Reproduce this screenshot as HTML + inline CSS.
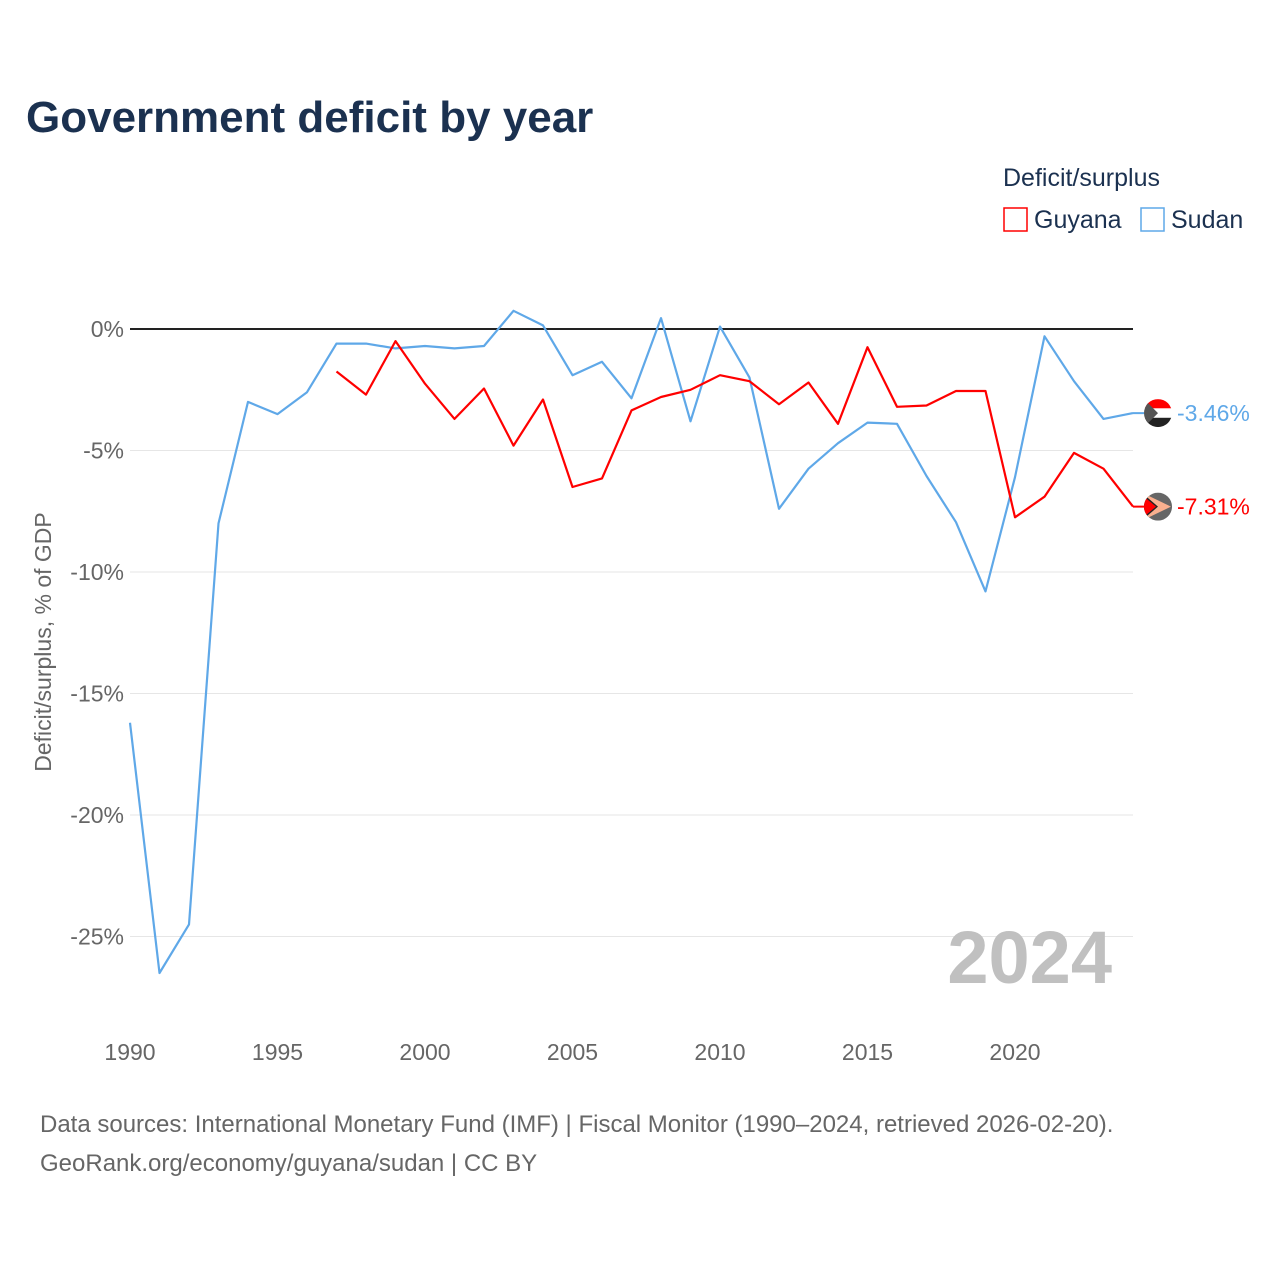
<!DOCTYPE html>
<html><head><meta charset="utf-8">
<style>
body{margin:0;background:#fff;font-family:"Liberation Sans",sans-serif;}
svg text{font-family:"Liberation Sans",sans-serif;}
</style></head>
<body>
<svg width="1280" height="1280" viewBox="0 0 1280 1280">
<text x="26" y="132" font-size="44" font-weight="bold" fill="#1b3150">Government deficit by year</text>
<text x="1003" y="186" font-size="25" fill="#1b3150">Deficit/surplus</text>
<g><rect x="1004" y="208" width="23" height="23" fill="none" stroke="#ff0000" stroke-width="1.5"/><text x="1034" y="228" font-size="25" fill="#1b3150">Guyana</text></g>
<g><rect x="1141" y="208" width="23" height="23" fill="none" stroke="#5fa8e8" stroke-width="1.5"/><text x="1171" y="228" font-size="25" fill="#1b3150">Sudan</text></g>
<g id="grid"></g>
<g id="yticks"></g>
<g id="xticks"></g>
<text transform="translate(51,642) rotate(-90)" text-anchor="middle" font-size="23" fill="#666">Deficit/surplus, % of GDP</text>
<text x="1112" y="983" text-anchor="end" font-size="74" font-weight="bold" fill="#c0c0c0">2024</text>
<g id="series"></g>
<text x="40" y="1132" font-size="24" fill="#666">Data sources: International Monetary Fund (IMF) | Fiscal Monitor (1990–2024, retrieved 2026-02-20).</text>
<text x="40" y="1171" font-size="24" fill="#666">GeoRank.org/economy/guyana/sudan | CC BY</text>
</svg>
<script>
const years=[1990,1991,1992,1993,1994,1995,1996,1997,1998,1999,2000,2001,2002,2003,2004,2005,2006,2007,2008,2009,2010,2011,2012,2013,2014,2015,2016,2017,2018,2019,2020,2021,2022,2023,2024];
const sudan=[-16.2,-26.5,-24.5,-8.0,-3.0,-3.5,-2.6,-0.6,-0.6,-0.8,-0.7,-0.8,-0.7,0.75,0.15,-1.9,-1.35,-2.85,0.45,-3.8,0.1,-2.0,-7.4,-5.75,-4.7,-3.85,-3.9,-6.05,-7.95,-10.8,-6.1,-0.3,-2.15,-3.7,-3.46];
const guyana=[null,null,null,null,null,null,null,-1.75,-2.7,-0.5,-2.25,-3.7,-2.45,-4.8,-2.9,-6.5,-6.15,-3.35,-2.8,-2.5,-1.9,-2.15,-3.1,-2.2,-3.9,-0.75,-3.2,-3.15,-2.55,-2.55,-7.75,-6.9,-5.1,-5.75,-7.31];
const yTicks=[0,-5,-10,-15,-20,-25];
const xTicks=[1990,1995,2000,2005,2010,2015,2020];
const NS="http://www.w3.org/2000/svg";
const X=y=>130+(y-1990)*(1133-130)/34;
const Y=v=>329-v*24.3;
function mk(t,a,p){const e=document.createElementNS(NS,t);for(const k in a)e.setAttribute(k,a[k]);p.appendChild(e);return e;}
const grid=document.getElementById('grid'),yt=document.getElementById('yticks'),xt=document.getElementById('xticks'),ser=document.getElementById('series');
yTicks.forEach(v=>{
  const l=mk('line',{x1:130,x2:1133,y1:Y(v),y2:Y(v),stroke:v===0?'#222':'#e6e6e6','stroke-width':v===0?2:1},grid);
  
  
  const t=mk('text',{x:124,y:Y(v)+8,'text-anchor':'end','font-size':23,fill:'#666'},yt);
  t.textContent=v+'%';
  
  
});
xTicks.forEach(v=>{
  const t=mk('text',{x:X(v),y:1060,'text-anchor':'middle','font-size':23,fill:'#666'},xt);
  t.textContent=v;
  
  
});
function line(vals,color,name){
  let d='';vals.forEach((v,i)=>{if(v===null)return;d+=(d?'L':'M')+X(years[i]).toFixed(1)+','+Y(v).toFixed(1);});
  const p=mk('path',{d:d,fill:'none',stroke:color,'stroke-width':2.2,'stroke-linejoin':'round'},ser);
  
  
}
line(sudan,'#5fa8e8','sudan-line');
line(guyana,'#ff0000','guyana-line');
function endLabel(vals,color,name,flag){
  const v=vals[vals.length-1],cx=1158,cy=Y(v);
  const g=mk('g',{},ser);
  
  
  mk('line',{x1:X(2024),x2:cx,y1:cy,y2:cy,stroke:color,'stroke-width':2},g);
  const cp='clip-'+name;
  const c=mk('clipPath',{id:cp},g);mk('circle',{cx:cx,cy:cy,r:14},c);
  const f=mk('g',{'clip-path':'url(#'+cp+')'},g);
  flag(f,cx,cy);
  const t=mk('text',{x:1177,y:cy+8,'font-size':23,fill:color},g);
  t.textContent=v.toFixed(2)+'%';
}
endLabel(sudan,'#5fa8e8','sudan-end-label',(f,cx,cy)=>{
  mk('rect',{x:cx-14,y:cy-14,width:28,height:9.3,fill:'#f00'},f);
  mk('rect',{x:cx-14,y:cy-4.7,width:28,height:9.4,fill:'#fff'},f);
  mk('rect',{x:cx-14,y:cy+4.7,width:28,height:9.3,fill:'#222'},f);
  mk('polygon',{points:`${cx-14},${cy-14} ${cx},${cy} ${cx-14},${cy+14}`,fill:'#555'},f);
});
endLabel(guyana,'#ff0000','guyana-end-label',(f,cx,cy)=>{
  mk('rect',{x:cx-14,y:cy-14,width:28,height:28,fill:'#666'},f);
  mk('polygon',{points:`${cx-14},${cy-13} ${cx+13},${cy} ${cx-14},${cy+13}`,fill:'#f9b08f'},f);
  mk('polygon',{points:`${cx-14},${cy-12} ${cx},${cy} ${cx-14},${cy+12}`,fill:'#222'},f);
  mk('polygon',{points:`${cx-14},${cy-10} ${cx-2},${cy} ${cx-14},${cy+10}`,fill:'#f00'},f);
});
</script>
</body></html>
